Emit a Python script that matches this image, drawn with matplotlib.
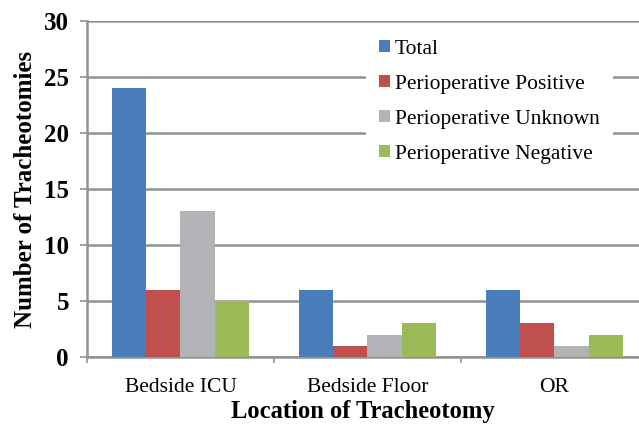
import numpy as np
import matplotlib.pyplot as plt
from matplotlib.patches import Patch

# data
locations = ["Bedside ICU", "Bedside Floor", "OR"]
series = ["Total", "Perioperative Positive", "Perioperative Unknown", "Perioperative Negative"]
total = [24, 6, 6]
positive = [6, 1, 3]
unknown = [13, 2, 1]
negative = [5, 3, 2]
colors = ["#4A7EBB", "#C0504D", "#B1B3B6", "#9BBB59"]

plt.rcParams["font.family"] = ["Liberation Serif", "DejaVu Serif"]

fig = plt.figure(figsize=(6.39, 4.24), dpi=100)
ax = fig.add_axes([87 / 639, 1 - 357 / 424, 1 - 87 / 639, (357 - 21) / 424])

x = np.arange(len(locations))
w = 0.182
for i, vals in enumerate([total, positive, unknown, negative]):
    ax.bar(x + (i - 1.5) * w, vals, width=w, color=colors[i], zorder=3)

ax.set_ylim(0, 30)
ax.set_xlim(-0.5, 2.452)
ax.set_yticks(range(0, 31, 5))
ax.yaxis.grid(True, color="#929292", linewidth=1.8, zorder=0)
ax.set_axisbelow(True)

ax.set_xticks(x)
ax.set_xticklabels(locations, fontsize=15.5)
ax.tick_params(axis="x", which="major", length=0, pad=15)
ax.set_xticks([-0.5, 0.5, 1.5], minor=True)
ax.tick_params(axis="x", which="minor", length=4.5, width=1.2, color="#929292")
ax.tick_params(axis="y", length=5, width=1.2, color="#929292", pad=8)
for lab in ax.get_yticklabels():
    lab.set_fontsize(18)
    lab.set_fontweight("bold")

for s in ["top", "right"]:
    ax.spines[s].set_visible(False)
for s in ["left", "bottom"]:
    ax.spines[s].set_color("#929292")
    ax.spines[s].set_linewidth(1.8)

ax.set_ylabel("Number of Tracheotomies", fontsize=18, fontweight="bold", labelpad=5)
ax.set_xlabel("Location of Tracheotomy", fontsize=17.7, fontweight="bold", labelpad=2)

handles = [Patch(facecolor=c, edgecolor="none") for c in colors]
leg = fig.legend(handles, series, loc="upper left",
                 bbox_to_anchor=(366 / 639, 1 - 27 / 424),
                 frameon=True, fontsize=15.5, handlelength=0.5, handleheight=0.5,
                 handletextpad=0.25, labelspacing=0.74, borderpad=0.6,
                 borderaxespad=0)
leg.get_frame().set_edgecolor("none")
leg.get_frame().set_facecolor("white")
leg.get_frame().set_alpha(1)
leg.get_frame().set_boxstyle("square", pad=0)

fig.savefig("out.png", dpi=100)
